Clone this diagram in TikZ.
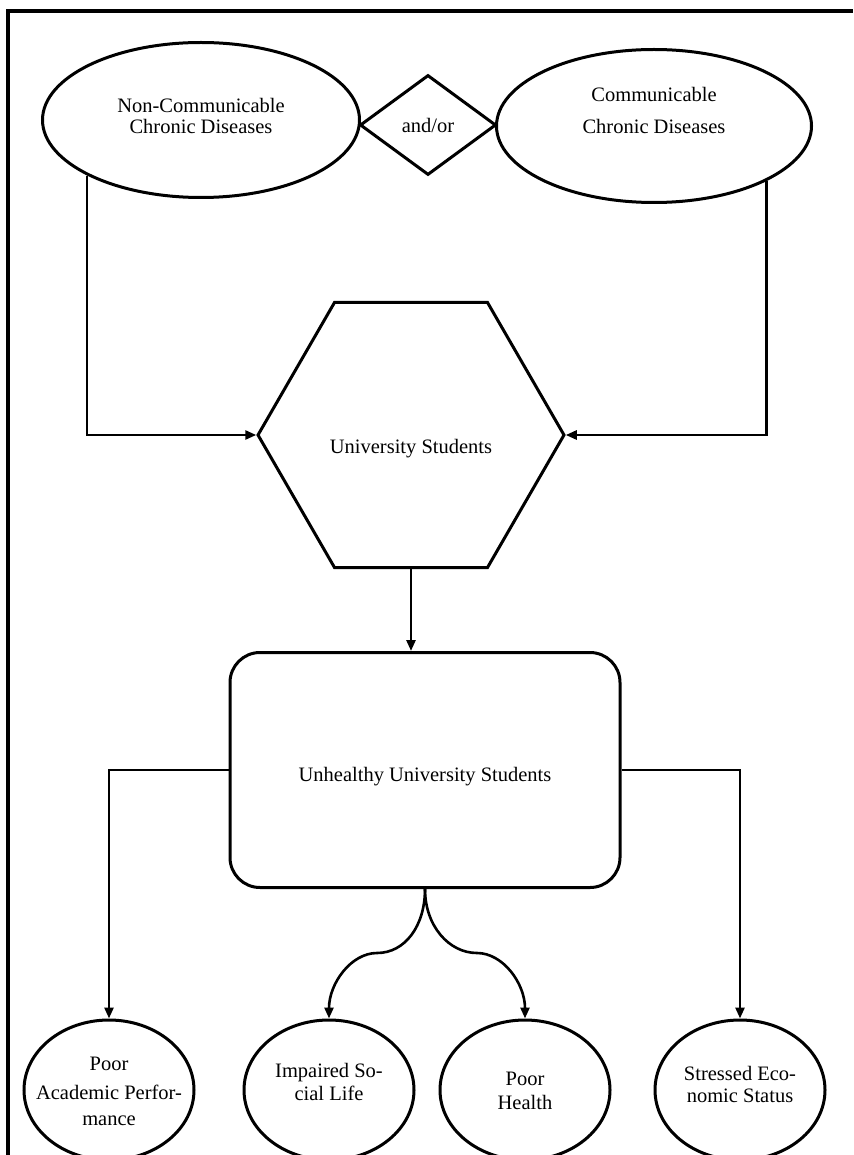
\documentclass[tikz,border=0pt]{standalone}
\usepackage{fontspec}
\setmainfont{Liberation Serif}
\usetikzlibrary{shapes.geometric}
\usetikzlibrary{arrows.meta}

% text block that is moved up or down inside its shape
\newcommand{\shifttext}[2]{\raisebox{#1}[\height][\depth]{\makebox[0pt]{\begin{tabular}{@{}c@{}}#2\end{tabular}}}}

\begin{document}
\begin{tikzpicture}[x=1pt,y=-1pt,
        font=\fontsize{20.5}{24}\selectfont,
        shapeline/.style={draw, line width=3pt, inner sep=0pt},
        oval/.style={shapeline, ellipse},
        effect/.style={oval, minimum width=170pt, minimum height=140pt},
        arr/.style={line width=2.6pt, -{Triangle[length=11pt,width=9pt]}}]
        \useasboundingbox (0,0) rectangle (853,1155);

        % Draw the page frame
        \draw[line width=3.2pt] (8,1165) -- (8,11) -- (853,11);

        % Creates the disease nodes
        \node[oval, minimum width=317pt, minimum height=155pt] (ncd) at (201,120)
            {\shifttext{2pt}{Non-Communicable\\[-3pt]Chronic Diseases}};
        \node[shapeline, diamond, minimum width=136pt, minimum height=100pt] (andor) at (428,125) {and/or};
        \node[oval, minimum width=315pt, minimum height=153pt] (cd) at (654,126)
            {\shifttext{13pt}{Communicable\\[8pt]Chronic Diseases}};

        % Create the students nodes
        \node[shapeline, regular polygon, regular polygon sides=6, minimum size=306pt] (us) at (411,435)
            {\shifttext{-14pt}{University Students}};
        \node[shapeline, rectangle, rounded corners=30pt, minimum width=390pt, minimum height=235pt] (uhs) at (425,770)
            {\shifttext{-7pt}{Unhealthy University Students}};

        % Create the effect nodes
        \node[effect] (pap) at (109,1090) {\shifttext{-3pt}{Poor\\[5pt]Academic Perfor-\\[2pt]mance}};
        \node[effect] (isl) at (329,1090) {\shifttext{6pt}{Impaired So-\\[-1pt]cial Life}};
        \node[effect] (ph) at (525,1090) {\shifttext{-3pt}{Poor\\Health}};
        \node[effect] (ses) at (740,1090) {\shifttext{3pt}{Stressed Eco-\\[-2pt]nomic Status}};

        % Draw the connectors
        \draw[arr] (ncd.-154) |- (us.west);
        \draw[arr] (cd.-26) |- (us.east);
        \draw[arr] (us.south) -- (us.south |- uhs.north);
        \draw[arr] (uhs.west) -| (pap.north);
        \draw[arr] (uhs.east) -| (ses.north);

        % Draw the curved connectors
        \coordinate (bendl) at (377,953);
        \coordinate (bendr) at (477,953);
        \draw[arr] (uhs.south) .. controls +(0,37) and +(28,0) .. (bendl)
            .. controls +(-26,0) and +(0,-35) .. (isl.north);
        \draw[arr] (uhs.south) .. controls +(0,37) and +(-28,0) .. (bendr)
            .. controls +(26,0) and +(0,-35) .. (ph.north);
\end{tikzpicture}
\end{document}
